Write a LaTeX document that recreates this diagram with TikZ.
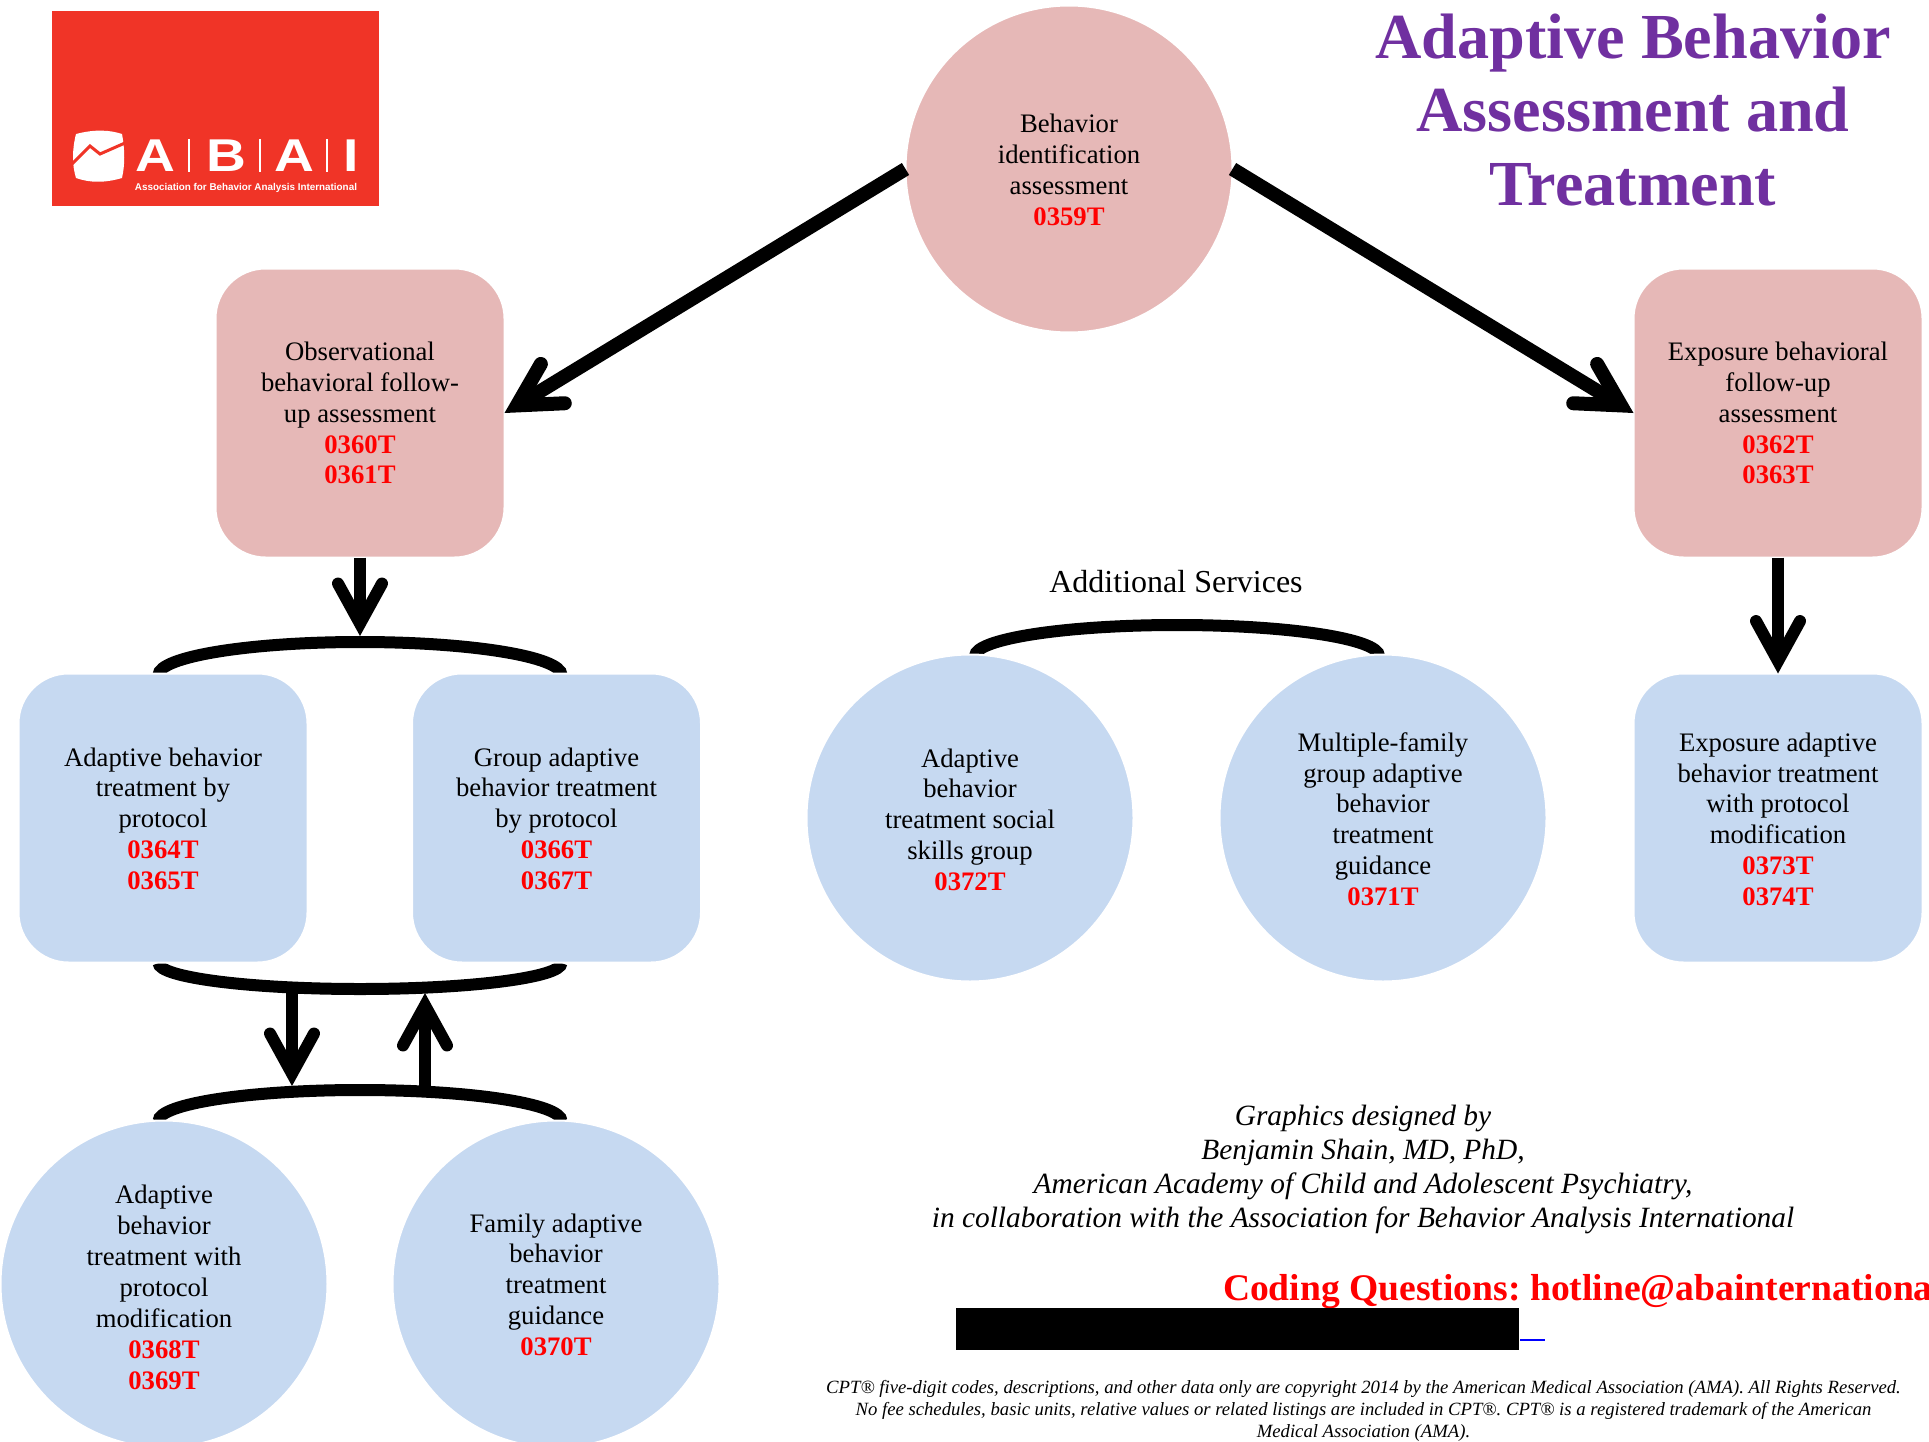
\documentclass[tikz,border=0pt]{standalone}
\usepackage{fontspec}
\usepackage{graphicx}
\setmainfont{Liberation Serif}
\newfontfamily\logofont{Liberation Sans}
\usetikzlibrary{arrows.meta}
\AtBeginDocument{\frenchspacing}
\definecolor{pinkfill}{HTML}{E6B8B7}
\definecolor{bluefill}{HTML}{C6D9F1}
\definecolor{logored}{HTML}{F03427}
\definecolor{titlepurple}{HTML}{7030A0}
\newcommand{\cod}[1]{\textcolor{red}{\textbf{#1}}}
\newcommand{\nudge}[1]{\rule{0pt}{#1pt}}
\tikzset{
  x=1pt,y=-1pt,
  every node/.style={inner sep=0pt,outer sep=0pt},
  body/.style={align=center,text=black,font=\fontsize{26.7}{30.9}\selectfont},
  roundbox/.style={body,rectangle,rounded corners=50pt,minimum width=289pt,minimum height=289pt,draw=white,line width=2pt},
  disc/.style={body,circle,minimum size=327pt,draw=white,line width=2pt},
  pinkshape/.style={fill=pinkfill},
  blueshape/.style={fill=bluefill},
  barbtip/.tip={Straight Barb[length=40pt,width=44pt,line width=12pt,line cap=round,line join=miter]},
  diagtip/.tip={Straight Barb[length=42pt,width=46pt,line width=14pt,line cap=round,line join=miter]},
  flowarrow/.style={line width=12pt,-{barbtip}},
  diagarrow/.style={line width=14pt,-{diagtip}},
  bracket/.style={line width=12pt,line cap=butt},
  logoletter/.style={text=white,font=\logofont\bfseries\fontsize{46}{46}\selectfont,xscale=1.2},
  logobar/.style={white,line width=1.5pt},
}
\begin{document}
\begin{tikzpicture}
\useasboundingbox (0,0) rectangle (1929,1442);
% arc anchors
\coordinate (a1L) at (158.5,675);
\coordinate (a1top) at (360,636);
\coordinate (a2L) at (158.5,963);
\coordinate (a3L) at (158.5,1121);
\coordinate (a4L) at (975,656);
\coordinate (d1s) at (292,989);
\coordinate (d1e) at (292,1086);
\coordinate (u1s) at (425,1090);
\coordinate (u1e) at (425,993);
\draw[bracket] (a1L) arc[start angle=180,end angle=0,x radius=201.5pt,y radius=33pt];
\draw[bracket] (a2L) arc[start angle=180,end angle=360,x radius=201.5pt,y radius=26pt];
\draw[bracket] (a3L) arc[start angle=180,end angle=0,x radius=201.5pt,y radius=31pt];
\draw[bracket] (a4L) arc[start angle=180,end angle=0,x radius=202pt,y radius=31pt];
% nodes
\node[disc,pinkshape] (top) at (1069,169) {\nudge{20}Behavior\\identification\\assessment\\\cod{0359T}};
\node[roundbox,pinkshape] (obs) at (360,413) {Observational\\behavioral follow-\\up assessment\\\cod{0360T}\\\cod{0361T}};
\node[roundbox,pinkshape] (exp) at (1778,413) {Exposure behavioral\\follow-up\\assessment\\\cod{0362T}\\\cod{0363T}};
\node[roundbox,blueshape] (abt) at (163,818) {\nudge{20}Adaptive behavior\\treatment by\\protocol\\\cod{0364T}\\\cod{0365T}};
\node[roundbox,blueshape] (gab) at (556.5,818) {\nudge{20}Group adaptive\\behavior treatment\\by protocol\\\cod{0366T}\\\cod{0367T}};
\node[roundbox,blueshape] (eab) at (1778,818) {\nudge{21}Exposure adaptive\\behavior treatment\\with protocol\\modification\\\cod{0373T}\\\cod{0374T}};
\node[disc,blueshape] (soc) at (970,818) {\nudge{22}Adaptive\\behavior\\treatment social\\skills group\\\cod{0372T}};
\node[disc,blueshape] (mfg) at (1383,818) {\nudge{21}Multiple-family\\group adaptive\\behavior\\treatment\\guidance\\\cod{0371T}};
\node[disc,blueshape] (mod) at (164,1284) {\nudge{25}Adaptive\\behavior\\treatment with\\protocol\\modification\\\cod{0368T}\\\cod{0369T}};
\node[disc,blueshape] (fam) at (556,1284) {\nudge{20}Family adaptive\\behavior\\treatment\\guidance\\\cod{0370T}};
% arrows
\draw[diagarrow] (top.west) -- (obs.east);
\draw[diagarrow] (top.east) -- (exp.west);
\draw[flowarrow] (obs.south) -- (a1top);
\draw[flowarrow] (exp.south) -- (eab.north);
\draw[flowarrow] (d1s) -- (d1e);
\draw[flowarrow] (u1s) -- (u1e);
% title and texts
\node[align=center,text=titlepurple,font=\bfseries\fontsize{64.2}{73.2}\selectfont] (title) at (1633,110) {Adaptive Behavior\\Assessment and\\Treatment};
\node[font=\fontsize{32}{36}\selectfont] (addl) at (1176,582) {Additional Services};
\node[align=center,font=\itshape\fontsize{29.4}{33.8}\selectfont] (credit) at (1363,1169.5) {Graphics designed by\\Benjamin Shain, MD, PhD,\\American Academy of Child and Adolescent Psychiatry,\\in collaboration with the Association for Behavior Analysis International};
\node[anchor=base west,text=red,font=\bfseries\fontsize{37.6}{37}\selectfont] (coding) at (1223,1300) {Coding Questions: hotline@abainternationa};
\fill[black] (956,1308) rectangle (1519,1350);
\fill[blue] (1520,1339) rectangle (1545,1341);
\node[align=center,font=\itshape\fontsize{18.7}{21.8}\selectfont] (legal) at (1363.5,1411) {CPT® five-digit codes, descriptions, and other data only are copyright 2014 by the American Medical Association (AMA). All Rights Reserved.\\No fee schedules, basic units, relative values or related listings are included in CPT®. CPT® is a registered trademark of the American\\Medical Association (AMA).};
% logo
\fill[logored] (52,11) rectangle (379,206);
\fill[white] (76,134) .. controls (95,129) and (110,130) .. (122,134) .. controls (125,150) and (125,165) .. (122,178) .. controls (105,183) and (90,183) .. (76,178) .. controls (72,165) and (72,150) .. (76,134) -- cycle;
\draw[logored,line width=3pt,line join=miter] (72,164) -- (90,146) -- (100,154) -- (125,143);
\node[logoletter] (la) at (155,156) {A};
\node[logoletter] (lb) at (226,156) {B};
\node[logoletter] (lc) at (294,156) {A};
\node[logoletter] (ld) at (351,156) {I};
\draw[logobar] (189,139) -- (189,172);
\draw[logobar] (260,139) -- (260,172);
\draw[logobar] (327,139) -- (327,172);
\node[text=white,font=\logofont\bfseries] (ltag) at (246,187.5) {\resizebox{222pt}{!}{Association for Behavior Analysis International}};
\end{tikzpicture}
\end{document}
